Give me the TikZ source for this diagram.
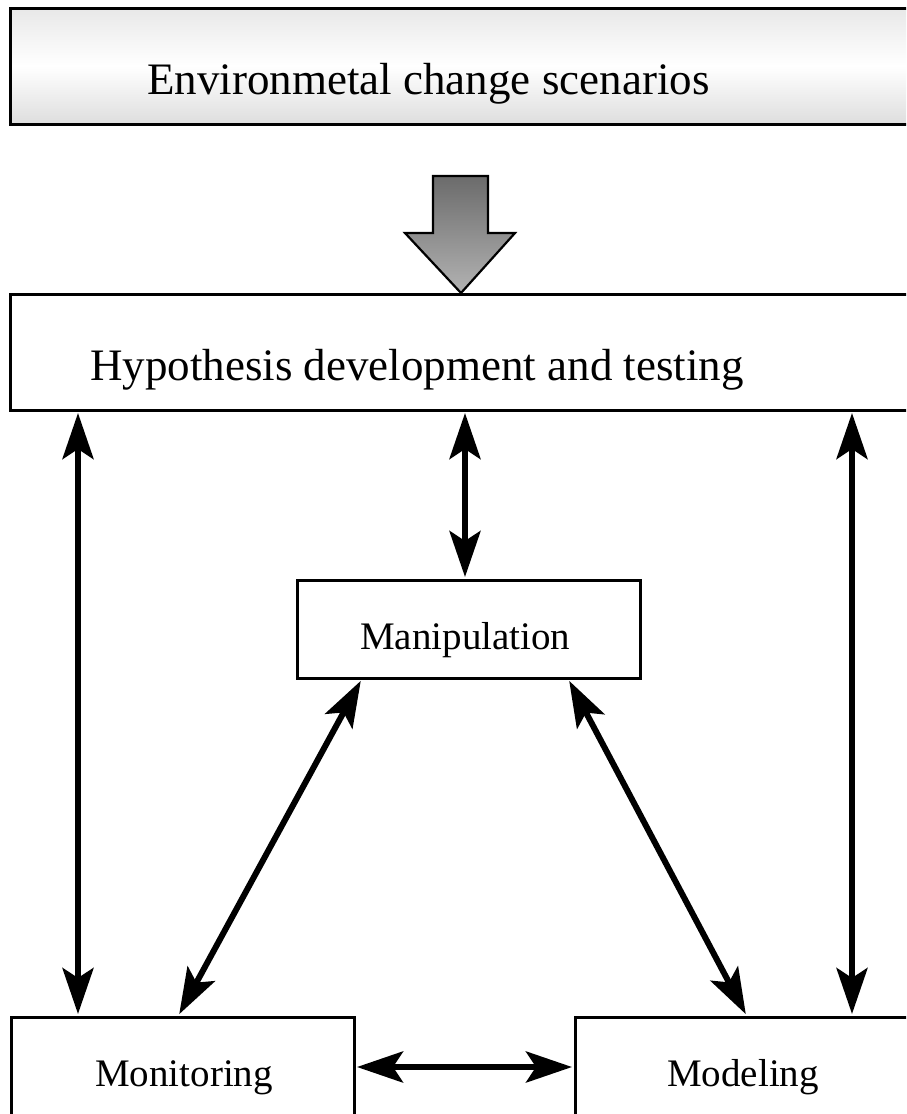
\documentclass[tikz,border=0pt]{standalone}
\usepackage{fontspec}
\setmainfont{Liberation Serif}
\usetikzlibrary{arrows.meta,calc}
\begin{document}
\begin{tikzpicture}[x=1pt,y=-1pt,
  box/.style={draw=black,line width=3pt,rectangle,inner sep=0pt,fill=white},
  big/.style={font=\fontsize{45}{54}\selectfont,inner sep=0pt,anchor=base west},
  small/.style={font=\fontsize{39}{47}\selectfont,inner sep=0pt,anchor=base west},
  tipa/.tip={Stealth[length=46pt,width=31pt,inset=10pt]},
  dbl/.style={line width=6pt,tipa-tipa,shorten <=1.5pt,shorten >=1.5pt}]
\useasboundingbox (0,0) rectangle (906,1114);
\clip (0,0) rectangle (906,1114);
% boxes
\node[box,fill=none,top color=black!9,bottom color=black!13,middle color=white,minimum width=905pt,minimum height=116pt] (env) at (462.5,66) {};
\node[box,minimum width=905pt,minimum height=116pt] (hyp) at (462.5,352) {};
\node[box,minimum width=343pt,minimum height=98pt] (manip) at (468.5,629) {};
\node[box,minimum width=343pt,minimum height=113pt] (mon) at (182.5,1073.5) {};
\node[box,minimum width=340pt,minimum height=113pt] (mod) at (745,1073.5) {};
% texts
\node[big] (envt) at (147,94) {Environmetal change scenarios};
\node[big] (hypt) at (90,380) {Hypothesis development and testing};
\node[small] (manipt) at (360,649) {Manipulation};
\node[small] (mont) at (95,1086) {Monitoring};
\node[small] (modt) at (667,1086) {Modeling};
% fat arrow
\draw[line width=2.2pt,top color=black!58,bottom color=black!30,line join=miter]
  (433,176) -- (488,176) -- (488,233) -- (515,233) -- (461,293) -- (405,233) -- (433,233) -- cycle;
% connectors
\coordinate (xl) at (78,0);
\coordinate (xm) at (465,0);
\coordinate (xr) at (852,0);
\draw[dbl] (xl |- hyp.south) -- (xl |- mon.north);
\draw[dbl] (xm |- hyp.south) -- (xm |- manip.north);
\draw[dbl] (xr |- hyp.south) -- (xr |- mod.north);
\draw[dbl] ($(manip.south west)+(66,0)$) -- ($(mon.north west)+(169,0)$);
\draw[dbl] ($(manip.south east)+(-73,0)$) -- ($(mod.north west)+(173,0)$);
\draw[dbl] ($(mon.east)+(0,-6.5)$) -- ($(mod.west)+(0,-6.5)$);
\end{tikzpicture}
\end{document}
